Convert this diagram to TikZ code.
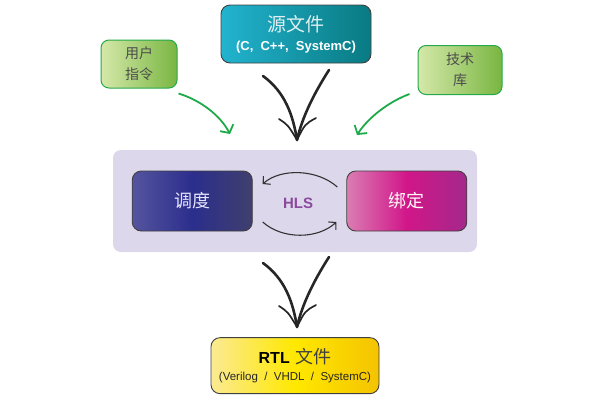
\documentclass[tikz,border=0pt]{standalone}
\usepackage{fontspec}
\setmainfont{Liberation Sans}
\newfontfamily\cjk{Noto Sans CJK SC}
\usetikzlibrary{%
  arrows.meta,%
  positioning% wg. " of "
}
\definecolor{tealL}{HTML}{22B3CF}
\definecolor{tealR}{HTML}{097A82}
\definecolor{leafL}{HTML}{D5E8A9}
\definecolor{leafR}{HTML}{79B642}
\definecolor{leafRim}{HTML}{25A94B}
\definecolor{hintGreen}{HTML}{1FAA4A}
\definecolor{lilac}{HTML}{DCD7EA}
\definecolor{indigoL}{HTML}{55549F}
\definecolor{indigoM}{HTML}{2B2E8C}
\definecolor{indigoR}{HTML}{3F3F6E}
\definecolor{rubyL}{HTML}{DA7DB3}
\definecolor{rubyM}{HTML}{D11689}
\definecolor{rubyR}{HTML}{A3298A}
\definecolor{sunL}{HTML}{FBEA93}
\definecolor{sunM}{HTML}{FFE800}
\definecolor{sunR}{HTML}{F4C300}
\definecolor{hlsPurple}{HTML}{8B4A9D}

\begin{document}
\begin{tikzpicture}[x=1pt,y=-1pt,
    filebox/.style={draw=black!75,line width=0.9pt,rounded corners=9pt,inner sep=0pt,align=center},
    hintbox/.style={draw=leafRim,line width=1pt,rounded corners=8pt,inner sep=0pt,align=center,
      left color=leafL,right color=leafR,text=black!70,font=\cjk\fontsize{14}{21}\selectfont},
    inkstroke/.style={line width=2.6pt,line cap=round,black!85},
    inkbarb/.style={line width=1.7pt,line cap=round,black!85},
    greenarrow/.style={draw=hintGreen,line width=1.8pt,-{Straight Barb[length=6pt,width=15pt]}},
    hlsarc/.style={line width=1.1pt,black!80,-{Straight Barb[length=5pt,width=11pt]}}]
  \useasboundingbox (0,0) rectangle (596,400);

  % sources and hints
  \node[filebox,minimum width=150pt,minimum height=58pt,left color=tealL,right color=tealR] (src) at (296,34)
    {{\cjk\fontsize{19}{22}\selectfont\color{white!88!teal}源文件}\\[7pt]
     {\bfseries\fontsize{13}{15}\selectfont\color{white}(C,~~C++,~~SystemC)}};
  \node[hintbox,minimum width=76pt,minimum height=48pt] (usr) at (139,64) {用户\\指令};
  \node[hintbox,minimum width=84pt,minimum height=49pt] (tech) at (460,70) {技术\\库};

  % hls core
  \node[fill=lilac,rounded corners=8pt,minimum width=364pt,minimum height=102pt] (panel) at (295,201) {};
  \node[filebox,minimum width=120pt,minimum height=60pt,left color=indigoL,right color=indigoR,middle color=indigoM,
    font=\cjk\fontsize{18}{20}\selectfont,text=white!90!blue] (sched) [right=19pt of panel.west] {调度};
  \node[filebox,minimum width=120pt,minimum height=60pt,left color=rubyL,right color=rubyR,middle color=rubyM,
    font=\cjk\fontsize{18}{20}\selectfont,text=white!90!pink] (bind) [left=10pt of panel.east] {绑定};
  \node[text=hlsPurple,font=\bfseries\fontsize{15}{17}\selectfont] (hls) at (298,203) {HLS};

  % output
  \node[filebox,minimum width=168pt,minimum height=56pt,left color=sunL,right color=sunR,middle color=sunM]
    (rtl) [below=85pt of panel]
    {{\bfseries\fontsize{16}{20}\selectfont RTL}\ \ {\cjk\fontsize{18}{20}\selectfont\color{black!75}文件}\\[5pt]
     {\fontsize{11.5}{14}\selectfont\color{black!85}(Verilog~~/~~VHDL~~/~~SystemC)}};

  \coordinate (tipA) at (297,140);
  \coordinate (tipB) at (297,327);
  \coordinate (usrEnd) at (230,134);
  \coordinate (techEnd) at (357,135);

  %hand drawn arrows
  \foreach \t in {tipA,tipB}{
    \draw[inkstroke,shift={(\t)}] (-34,-64) .. controls (-12,-48) and (-4,-25) .. (0,0);
    \draw[inkstroke,shift={(\t)}] (32,-70) .. controls (16,-45) and (5,-22) .. (0,0);
    \draw[inkbarb,shift={(\t)}] (-18,-21) .. controls (-9,-15) .. (0,0);
    \draw[inkbarb,shift={(\t)}] (19,-22) .. controls (8,-16) .. (0,0);
  }

  \draw[greenarrow] ([xshift=1pt,yshift=-5pt]usr.south east) .. controls (200,100) and (220,115) .. (usrEnd);
  \draw[greenarrow] ([xshift=-8pt,yshift=1pt]tech.south west) .. controls (388,102) and (368,118) .. (techEnd);

  \draw[hlsarc] ([xshift=-9pt,yshift=14pt]bind.west) .. controls +(-20,-18) and +(18,-16) .. ([xshift=10pt,yshift=17pt]sched.east);
  \draw[hlsarc] ([xshift=10pt,yshift=-21pt]sched.east) .. controls +(20,18) and +(-18,17) .. ([xshift=-10pt,yshift=-21pt]bind.west);
\end{tikzpicture}
\end{document}
